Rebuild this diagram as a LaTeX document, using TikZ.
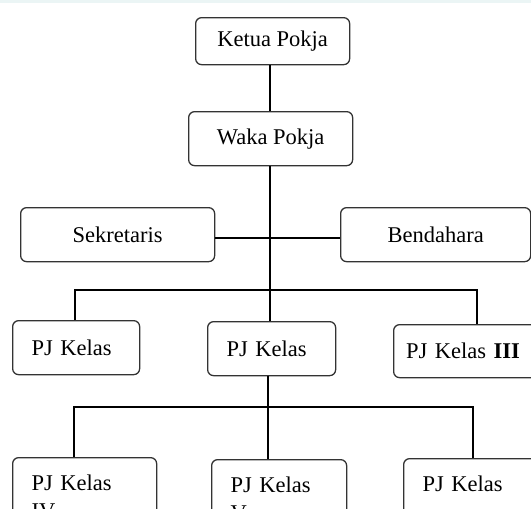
\documentclass[tikz,border=0pt]{standalone}
\usepackage{fontspec}
\setmainfont{Liberation Serif}
\begin{document}
\begin{tikzpicture}[x=1pt,y=-1pt,
  box/.style={draw=black!80, line width=1.3pt, rounded corners=6pt, fill=white,
    inner sep=0pt, anchor=north west, font=\fontsize{22.5}{28}\selectfont},
  lbox/.style={box, align=left},
  conn/.style={line width=1.7pt, black}]
\useasboundingbox (0,0) rectangle (531,509);
\clip (0,0) rectangle (531,509);
\fill[teal!8] (0,0) rectangle (531,3);
% top levels
\node[box, minimum width=154pt, minimum height=47pt] (ketua) at (195,17) {Ketua Pokja};
\node[box, minimum width=164pt, minimum height=54pt] (waka) at (188,111) {Waka Pokja};
\node[box, minimum width=194pt, minimum height=54pt] (sek) at (20,207) {Sekretaris};
\node[box, minimum width=190pt, minimum height=54pt] (bend) at (340,207) {Bendahara};
% middle row
\node[lbox, minimum width=127pt, minimum height=54pt, text width=89pt] (pj1) at (12,320) {PJ Kelas};
\node[lbox, minimum width=128pt, minimum height=54pt, text width=90pt] (pj2) at (207,321) {PJ Kelas};
\node[lbox, minimum width=150pt, minimum height=53pt, text width=125pt] (pj3) at (393,324) {PJ Kelas~\textbf{III}};
% bottom row
\node[lbox, minimum width=144pt, minimum height=79pt, text width=106pt] (k4) at (12,457) {PJ Kelas\\IV};
\node[lbox, minimum width=135pt, minimum height=79pt, text width=97pt] (k5) at (211,459) {PJ Kelas\\V};
\node[lbox, minimum width=140pt, minimum height=79pt, text width=102pt] (k6) at (403,458) {PJ Kelas\\\mbox{}};
% connector coordinates
\coordinate (s1) at (270,0);
\coordinate (hy) at (0,238);
\coordinate (b1l) at (75,290);
\coordinate (b1r) at (477,290);
\coordinate (b2l) at (74,407);
\coordinate (b2m) at (268,407);
\coordinate (b2r) at (473,407);
% connectors
\draw[conn] (ketua.south -| s1) -- (waka.north -| s1);
\draw[conn] (waka.south -| s1) -- (pj2.north -| s1);
\draw[conn] (sek.east |- hy) -- (bend.west |- hy);
\draw[conn] (pj1.north -| b1l) -- (b1l) -- (b1r) -- (pj3.north -| b1r);
\draw[conn] (pj2.south -| b2m) -- (b2m);
\draw[conn] (k4.north -| b2l) -- (b2l) -- (b2r) -- (k6.north -| b2r);
\draw[conn] (b2m) -- (k5.north -| b2m);
\end{tikzpicture}
\end{document}
